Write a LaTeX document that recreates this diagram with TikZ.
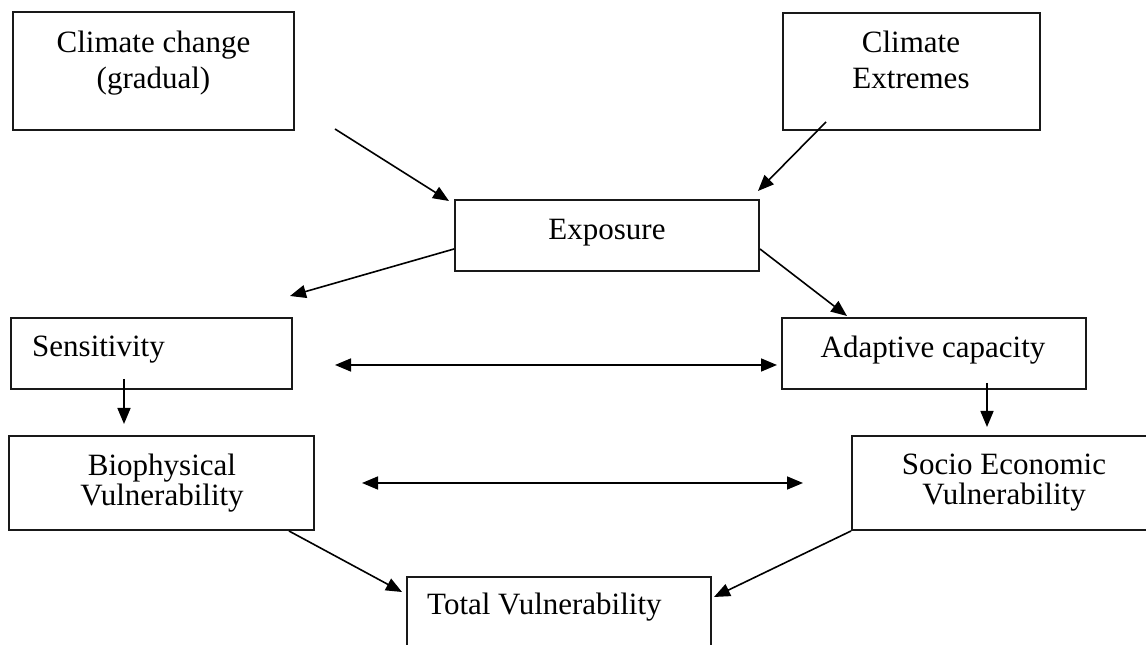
\documentclass[tikz,border=0pt]{standalone}
\usepackage{fontspec}
\setmainfont{Liberation Serif}
\usetikzlibrary{arrows.meta}
\begin{document}
\begin{tikzpicture}[x=1pt,y=1pt,
  box/.style={draw=black!90, line width=2pt, rectangle, inner sep=0pt},
  txt/.style={inner sep=0pt, font=\fontsize{31}{36}\selectfont, align=center},
  txtb/.style={inner sep=0pt, font=\fontsize{31}{30}\selectfont, align=center},
  arr/.style={line width=1.6pt, -{Triangle[length=16pt,width=13pt]}},
  darr/.style={line width=1.6pt, {Triangle[length=16pt,width=13pt]}-{Triangle[length=16pt,width=13pt]}}]
\useasboundingbox (0,0) rectangle (1146,645);
\clip (0,0) rectangle (1146,645);
% boxes
\node[box, minimum width=281pt, minimum height=118pt] (b1) at (153.5,574) {};
\node[box, minimum width=257pt, minimum height=117pt] (b2) at (911.5,573.5) {};
\node[box, minimum width=304pt, minimum height=71pt] (exp) at (607,409.5) {};
\node[box, minimum width=281pt, minimum height=71pt] (sens) at (151.5,291.5) {};
\node[box, minimum width=304pt, minimum height=71pt] (adapt) at (934,291.5) {};
\node[box, minimum width=305pt, minimum height=94pt] (bio) at (161.5,162) {};
\node[box, minimum width=304pt, minimum height=94pt] (socio) at (1004,162) {};
\node[box, minimum width=304pt, minimum height=88pt] (total) at (559,24) {};
% texts
\node[txt, anchor=north] (t1) at (153.5,614) {Climate change\\(gradual)};
\node[txt, anchor=north] (t2) at (911,614) {Climate\\Extremes};
\node[txt, anchor=base] (t3) at (607,405) {Exposure};
\node[txt, anchor=base west] (t4) at (32,288) {Sensitivity};
\node[txt, anchor=base] (t5) at (933,287) {Adaptive capacity};
\node[txtb, anchor=north] (t6) at (162,191) {Biophysical\\Vulnerability};
\node[txtb, anchor=north] (t7) at (1004,191) {Socio Economic\\Vulnerability};
\node[txt, anchor=base west] (t8) at (427,30) {Total Vulnerability};
% free ends
\coordinate (c1) at (335,516);
\coordinate (c2) at (826,523);
\coordinate (c3) at (290,349);
\coordinate (c7) at (335,280);
\coordinate (c8a) at (362,162);
\coordinate (c8b) at (803,162);
% connectors
\draw[arr] (c1) -- ([shift={(-5pt,-2pt)}]exp.north west);
\draw[arr] (c2) -- ([shift={(-2pt,8pt)}]exp.north east);
\draw[arr] ([yshift=-13.5pt]exp.west) -- (c3);
\draw[arr] ([yshift=-13.5pt]exp.east) -- ([xshift=66pt,yshift=1pt]adapt.north west);
\draw[arr] ([shift={(-27.5pt,11pt)}]sens.south) -- ([shift={(-37.5pt,11pt)}]bio.north);
\draw[arr] ([shift={(53pt,7pt)}]adapt.south) -- ([shift={(-17pt,8pt)}]socio.north);
\draw[darr] (c7) -- ([shift={(-4pt,-11.5pt)}]adapt.west);
\draw[darr] (c8a) -- (c8b);
\draw[arr] ([xshift=-26pt]bio.south east) -- ([shift={(-4pt,-16pt)}]total.north west);
\draw[arr] (socio.south west) -- ([shift={(2pt,-21pt)}]total.north east);
\end{tikzpicture}
\end{document}
